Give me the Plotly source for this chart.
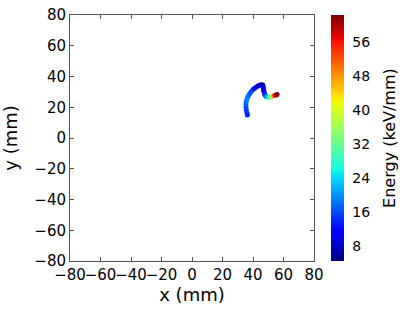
import numpy as np
import plotly.graph_objects as go

# Track hit positions (mm) and deposited energy (keV/mm)
track_x = [36.3, 36.0, 35.6, 35.4, 35.4, 35.6, 36.0, 36.6, 37.3, 38.0, 39.0, 40.2,
           41.3, 42.4, 43.5, 44.6, 45.5, 46.4, 46.7, 46.8, 47.0, 47.2, 47.5, 47.9,
           48.4, 49.0, 50.0, 51.1, 52.3, 53.3, 54.2, 55.1, 55.8]
track_y = [15.0, 16.5, 18.2, 20.0, 22.0, 23.8, 25.3, 26.8, 28.0, 29.1, 30.4, 31.7,
           32.6, 33.4, 34.0, 34.5, 34.6, 34.5, 33.4, 32.3, 31.2, 30.1, 29.0, 28.0,
           27.3, 26.9, 26.6, 26.5, 26.9, 27.5, 27.7, 28.0, 28.3]
energy = [14, 14, 15, 16, 17, 18, 19, 19, 18, 17, 16, 14,
          12, 10, 8, 7, 7, 8, 9, 10, 11, 12, 13, 14,
          16, 20, 24, 30, 38, 46, 54, 58, 62]

axis_ticks = [-80, -60, -40, -20, 0, 20, 40, 60, 80]
axis_labels = ["\u221280", "\u221260", "\u221240", "\u221220", "0", "20", "40", "60", "80"]
cbar_ticks = [8, 16, 24, 32, 40, 48, 56]
cbar_title = "Energy (keV/mm)"

# matplotlib-like jet colorscale
bp = [0, 0.11, 0.125, 0.34, 0.35, 0.375, 0.64, 0.65, 0.66, 0.89, 0.91, 1.0]
r = np.interp(bp, [0, 0.35, 0.66, 0.89, 1], [0, 0, 1, 1, 0.5])
g = np.interp(bp, [0, 0.125, 0.375, 0.64, 0.91, 1], [0, 0, 1, 1, 0, 0])
b = np.interp(bp, [0, 0.11, 0.34, 0.65, 1], [0.5, 1, 1, 0, 0])
jet = [[t, f"rgb({int(rr*255)},{int(gg*255)},{int(bb*255)})"] for t, rr, gg, bb in zip(bp, r, g, b)]

font = "DejaVu Sans"

fig = go.Figure()
fig.add_trace(go.Scatter(
    x=track_x, y=track_y, mode="markers",
    marker=dict(size=5, color=energy, colorscale=jet, cmin=4.5, cmax=62.3,
                line=dict(width=0),
                colorbar=dict(
                    x=1.0697, xanchor="left", xpad=0, y=0.5, yanchor="middle",
                    len=1, lenmode="fraction", ypad=0,
                    thickness=13, outlinewidth=0,
                    tickvals=cbar_ticks, ticks="outside", ticklen=6,
                    tickcolor="rgba(0,0,0,0)",
                    tickfont=dict(family=font, size=14, color="black"),
                )),
    showlegend=False,
))

fig.add_annotation(
    text=cbar_title, xref="paper", yref="paper", x=1.307, y=0.5,
    xanchor="center", yanchor="middle", textangle=-90, showarrow=False,
    font=dict(family=font, size=16, color="black"),
)

axis_common = dict(
    range=[-80, 80], tickvals=axis_ticks, ticktext=axis_labels,
    ticks="inside", ticklen=4, tickangle=0, automargin=False,
    tickcolor="#555", showline=True, linecolor="#555", linewidth=1, mirror="ticks",
    showgrid=False, zeroline=False,
    tickfont=dict(family=font, size=15, color="black"),
)

fig.update_layout(
    width=411, height=319,
    margin=dict(l=70, r=97, t=15, b=58, autoexpand=False),
    paper_bgcolor="white", plot_bgcolor="white",
    xaxis=dict(**axis_common, title=dict(text="x (mm)", standoff=2,
               font=dict(family=font, size=18, color="black"))),
    yaxis=dict(**axis_common, title=dict(text="y (mm)", standoff=41,
               font=dict(family=font, size=18, color="black"))),
)

fig.write_html("out.html", config={"displayModeBar": False},
               post_script="document.body.style.margin='0';")
